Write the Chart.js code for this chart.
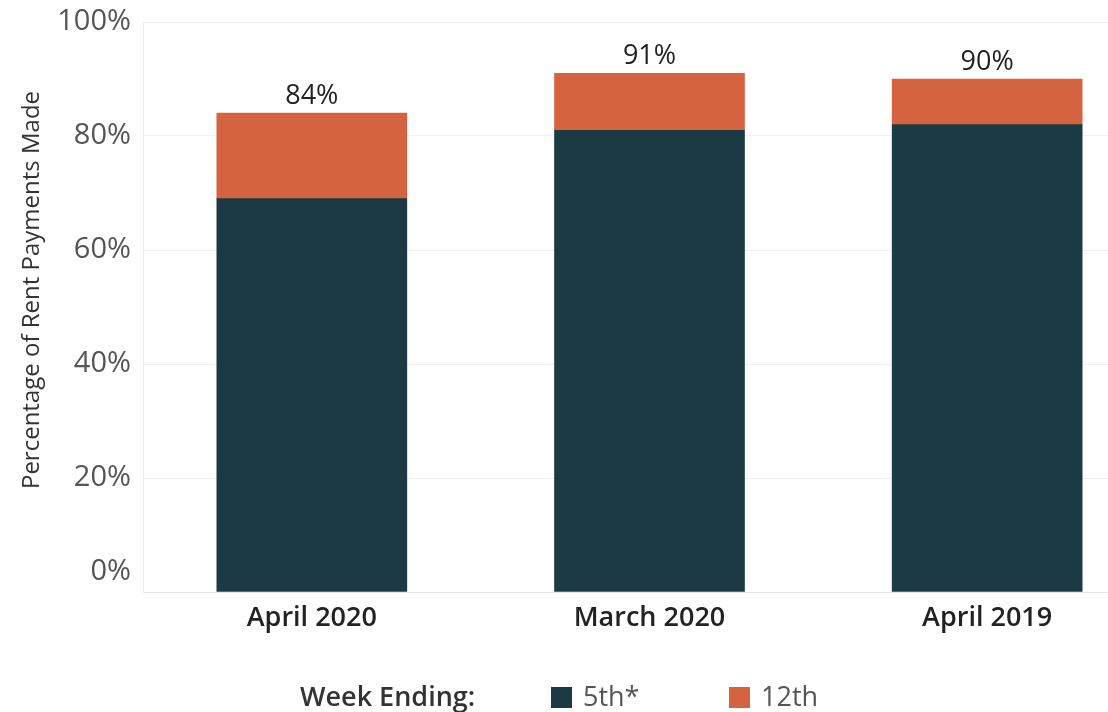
<!DOCTYPE html>
<html>
<head>
<meta charset="utf-8">
<script src="https://cdn.jsdelivr.net/npm/chart.js@4"></script>
<style>
  html, body { margin: 0; padding: 0; background: #fff; overflow: hidden; }
  #wrap { position: relative; width: 1108px; height: 712px; overflow: hidden; }
  #chart { position: absolute; left: 0; top: 0; }
  #legend { position: absolute; top: 681px; left: 300px; height: 31px; font-family: "Open Sans", sans-serif; font-size: 27px; color: #333; }
  #legend span { position: absolute; top: 0; white-space: nowrap; line-height: 30px; }
  #legend i { position: absolute; top: 6px; width: 21px; height: 21px; }
</style>
</head>
<body>
<div id="wrap">
  <canvas id="chart" width="1156" height="712"></canvas>
  <div id="legend"></div>
</div>
<script>
const categories = ["April 2020", "March 2020", "April 2019"];
const week5th = [69, 81, 82];
const week12th = [15, 10, 8];
const seriesNames = ["5th*", "12th"];
const yTicks = [0, 20, 40, 60, 80, 100];

const darkColor = "#1b3a44";
const orangeColor = "#d66340";

// totals above each stacked bar
const totals = categories.map((c, i) => week5th[i] + week12th[i]);

const customText = {
    id: "customText",
    afterDraw(chart) {
        const ctx = chart.ctx;
        const y = chart.scales.y;
        const x = chart.scales.x;
        ctx.save();

        // y tick labels (Tableau nudges the 0% label up)
        ctx.font = "29px 'Open Sans'";
        ctx.fillStyle = "#555";
        ctx.textAlign = "right";
        ctx.textBaseline = "middle";
        yTicks.forEach(v => {
            let py = y.getPixelForValue(v);
            if (v === 0) py -= 20;
            ctx.fillText(v + "%", 131, py);
        });

        // axis title
        ctx.save();
        ctx.translate(32, 290);
        ctx.rotate(-Math.PI / 2);
        ctx.font = "24px 'Open Sans'";
        ctx.fillStyle = "#333";
        ctx.textAlign = "center";
        ctx.textBaseline = "middle";
        ctx.fillText("Percentage of Rent Payments Made", 0, 0);
        ctx.restore();

        // total labels
        ctx.font = "27px 'Open Sans'";
        ctx.fillStyle = "#222";
        ctx.textAlign = "center";
        ctx.textBaseline = "middle";
        totals.forEach((t, i) => {
            ctx.fillText(t + "%", x.getPixelForValue(i), y.getPixelForValue(t) - 17);
        });
        ctx.restore();
    }
};

new Chart(document.getElementById("chart"), {
    type: "bar",
    data: {
        labels: categories,
        datasets: [
            { label: seriesNames[0], data: week5th, backgroundColor: darkColor, barThickness: 190 },
            { label: seriesNames[1], data: week12th, backgroundColor: orangeColor, barThickness: 190 },
        ],
    },
    options: {
        responsive: false,
        animation: false,
        layout: { padding: { top: 22, left: 0, right: 0, bottom: 0 } },
        plugins: {
            legend: { display: false },
            tooltip: { enabled: false },
        },
        scales: {
            x: {
                stacked: true,
                grid: { display: false, drawTicks: false },
                border: { color: "#e4e4e4" },
                ticks: {
                    padding: 10,
                    color: "#222",
                    font: { family: "Open Sans", size: 27, weight: 600 },
                },
                afterFit: s => { s.height = 120; },
            },
            y: {
                stacked: true,
                min: 0,
                max: 100,
                grid: { color: "#efefef", drawTicks: false },
                border: { color: "#ececec" },
                ticks: { display: false, stepSize: 20 },
                afterFit: s => { s.width = 143; },
            },
        },
    },
    plugins: [customText],
});

// legend
const legend = document.getElementById("legend");
const legendColors = [darkColor, orangeColor];
const itemLeft = [251, 429];
legend.innerHTML = '<span style="left:0;font-weight:600">Week Ending:</span>' +
    seriesNames.map((n, i) =>
        `<i style="left:${itemLeft[i]}px;background:${legendColors[i]}"></i>` +
        `<span style="left:${itemLeft[i] + 32}px;color:#555">${n}</span>`
    ).join("");
</script>
</body>
</html>
